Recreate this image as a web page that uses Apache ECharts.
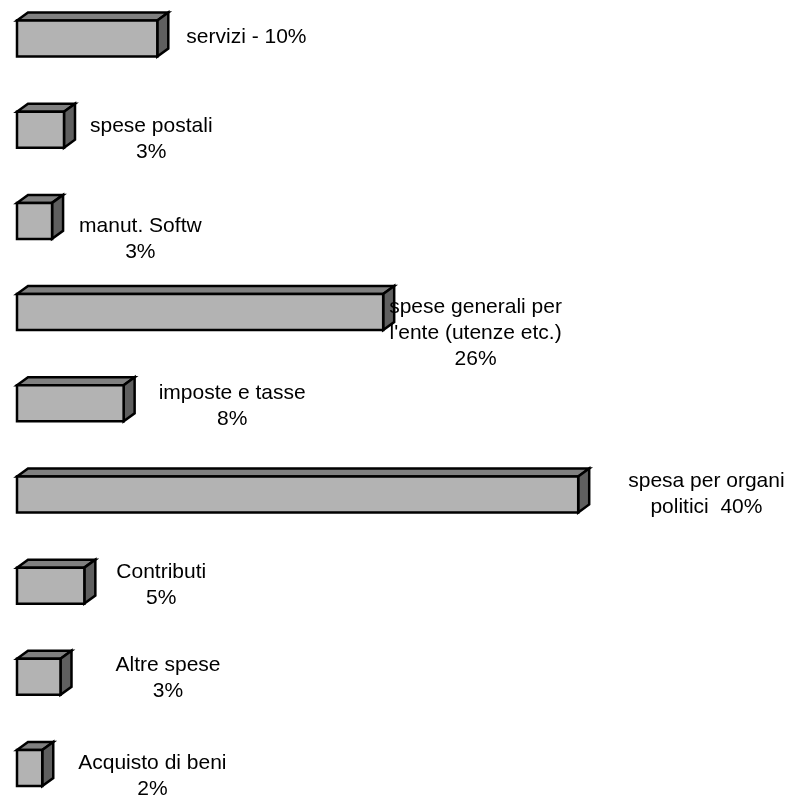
<!DOCTYPE html>
<html>
<head>
<meta charset="utf-8">
<script src="https://cdn.jsdelivr.net/npm/echarts@6/dist/echarts.min.js"></script>
<style>
html,body{margin:0;padding:0;background:#fff;}
#chart{width:792px;height:797px;}
</style>
</head>
<body>
<div id="chart"></div>
<script>
// ---- data ----
const categories = ['servizi', 'spese postali', 'manut. Softw', "spese generali per l'ente (utenze etc.)",
  'imposte e tasse', 'spesa per organi politici', 'Contributi', 'Altre spese', 'Acquisto di beni'];
const values = [10.0, 3.35, 2.5, 26.1, 7.6, 40.0, 4.8, 3.1, 1.8];
const labelTexts = ['servizi - 10%', 'spese postali\n3%', 'manut. Softw\n3%',
  "spese generali per\nl'ente (utenze etc.)\n26%", 'imposte e tasse\n8%',
  'spesa per organi\npolitici  40%', 'Contributi\n5%', 'Altre spese\n3%', 'Acquisto di beni\n2%'];

// ---- label layout (gap after bar side, first line offset from bar centre) ----
const labelGap = [18, 15, 16, -5, 24, 39, 21, 44, 25];
const labelDy = [-1.5, -3, 5, -5, -10.5, -13.5, -13.5, -11.5, -5];

const FONT = '21px "Liberation Sans", Arial, sans-serif';
const LINE_H = 26;
const DX = 11, DY = 8, HALF = 18;

const mctx = document.createElement('canvas').getContext('2d');
mctx.font = FONT;
function blockWidth(t) {
  return Math.max.apply(null, t.split('\n').map(s => mctx.measureText(s).width));
}

const chart = echarts.init(document.getElementById('chart'), null, {renderer: 'canvas'});
chart.setOption({
  animation: false,
  backgroundColor: '#ffffff',
  grid: {left: 17, right: 73.5, top: 38.5, bottom: 29, containLabel: false},
  xAxis: {type: 'value', min: 0, max: 50, show: false},
  yAxis: {type: 'category', data: categories, inverse: true, boundaryGap: false, show: false},
  series: [{
    type: 'custom',
    encode: {x: 0, y: 1},
    data: values.map((v, i) => [v, i]),
    renderItem: function (params, api) {
      const v = api.value(0), c = api.value(1);
      const p0 = api.coord([0, c]);
      const p1 = api.coord([v, c]);
      const x0 = p0[0], x1 = p1[0], cy = p0[1];
      const ty = cy - HALF, by = cy + HALF;
      const st = {stroke: '#000', lineWidth: 2.5, lineJoin: 'miter'};
      const txt = labelTexts[c];
      const bw = blockWidth(txt);
      const lx = x1 + DX + labelGap[c] + bw / 2;
      const ly = cy + labelDy[c] - LINE_H / 2;
      return {
        type: 'group',
        children: [
          {type: 'polygon', shape: {points: [[x0, ty], [x1, ty], [x1 + DX, ty - DY], [x0 + DX, ty - DY]]},
            style: Object.assign({fill: '#808080'}, st)},
          {type: 'polygon', shape: {points: [[x1, ty], [x1 + DX, ty - DY], [x1 + DX, by - DY], [x1, by]]},
            style: Object.assign({fill: '#5f5f5f'}, st)},
          {type: 'rect', shape: {x: x0, y: ty, width: x1 - x0, height: by - ty},
            style: Object.assign({fill: '#b3b3b3'}, st)},
          {type: 'text', x: lx, y: ly,
            style: {text: txt, fill: '#000', font: FONT, align: 'center', textAlign: 'center',
              verticalAlign: 'top', textVerticalAlign: 'top', lineHeight: LINE_H}}
        ]
      };
    }
  }]
});
</script>
</body>
</html>
